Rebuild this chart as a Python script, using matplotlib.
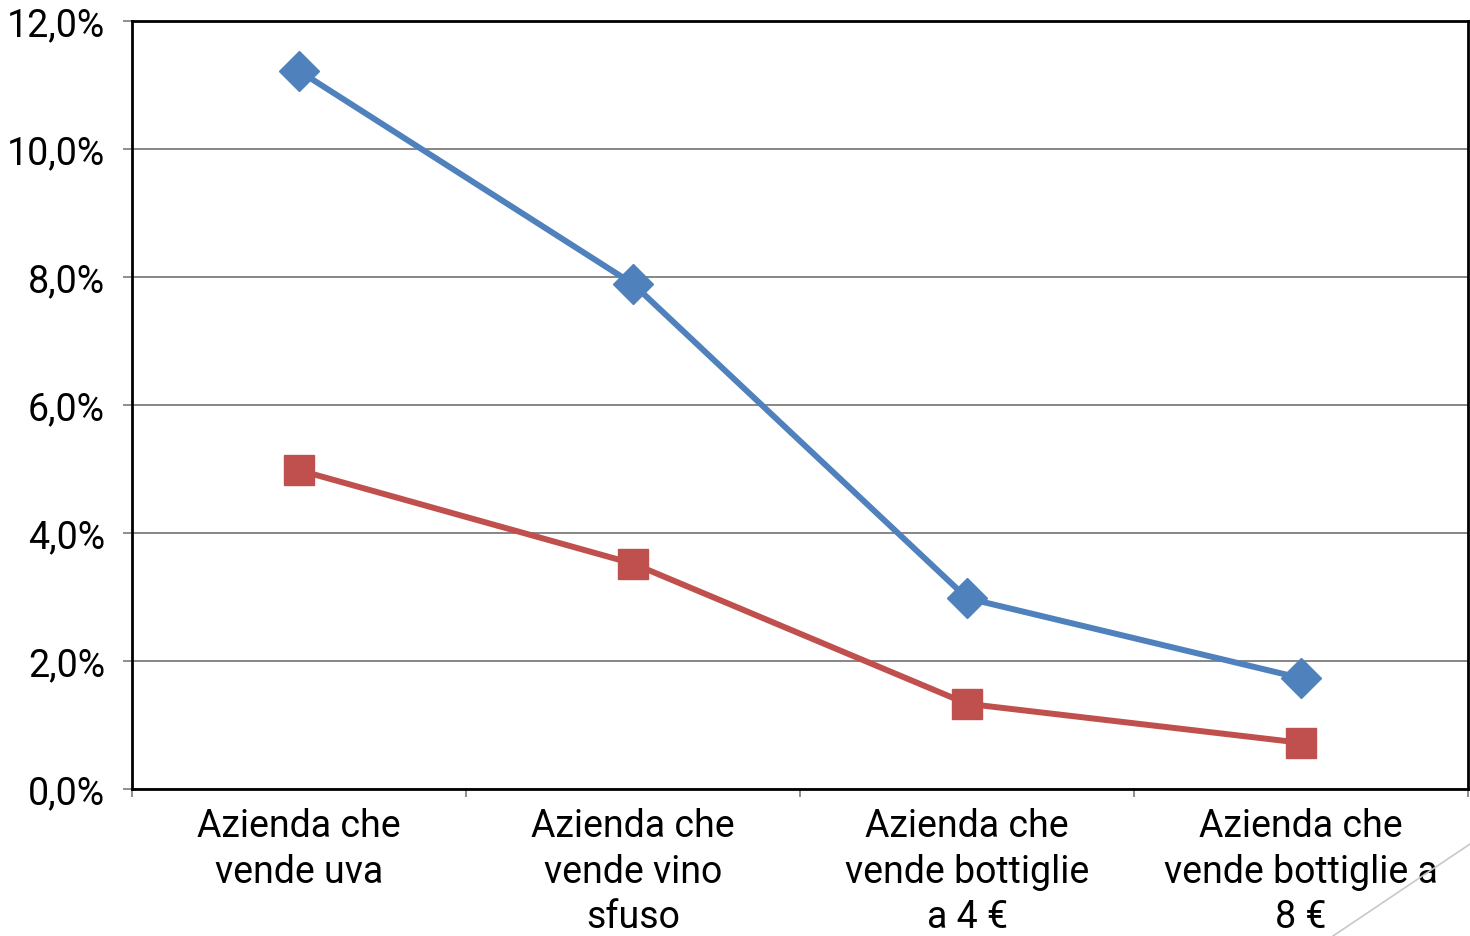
import numpy as np
import matplotlib.pyplot as plt
from matplotlib.lines import Line2D
from matplotlib.ticker import FuncFormatter

categories = ['Azienda che\nvende uva',
              'Azienda che\nvende vino\nsfuso',
              'Azienda che\nvende bottiglie\na 4 €',
              'Azienda che\nvende bottiglie a\n8 €']
blue_vals = [11.22, 7.89, 2.98, 1.73]
red_vals = [4.98, 3.52, 1.33, 0.72]
y_ticks = [0, 2, 4, 6, 8, 10, 12]

plt.rcParams.update({
    'font.family': ['Roboto', 'DejaVu Sans'],
    'font.size': 27,
})

fig = plt.figure(figsize=(14.7, 9.37), dpi=100)
ax = fig.add_axes([0.0898, 0.157, 0.909, 0.8195])

x = np.arange(len(categories))
ax.plot(x, blue_vals, color='#4F81BD', lw=4.3, marker='D', ms=20, zorder=3)
ax.plot(x, red_vals, color='#C0504D', lw=4.3, marker='s', ms=21, zorder=3)

ax.set_xlim(-0.5, len(categories) - 0.5)
ax.set_ylim(0, 12)
ax.set_yticks(y_ticks)
ax.yaxis.set_major_formatter(FuncFormatter(lambda v, p: f'{v:.1f}%'.replace('.', ',')))

ax.set_xticks(x)
ax.set_xticklabels(categories, linespacing=1.3, va='top')
ax.set_xticks(np.arange(-0.5, len(categories)), minor=True)
ax.tick_params(axis='x', which='major', length=0, pad=13)
ax.tick_params(axis='x', which='minor', length=6, width=1.3, color='#868686')
ax.tick_params(axis='y', length=6.5, width=1.3, color='#868686', pad=13)

ax.yaxis.grid(True, color='#868686', lw=1.4)
ax.set_axisbelow(True)
for s in ax.spines.values():
    s.set_color('black')
    s.set_linewidth(2)

# decorative slide line in the corner
fig.add_artist(Line2D([1333 / 1470, 1.0], [0, 92 / 937], color='#c8c8c8', lw=1.2,
                      transform=fig.transFigure))

fig.savefig('out.png', dpi=100)
